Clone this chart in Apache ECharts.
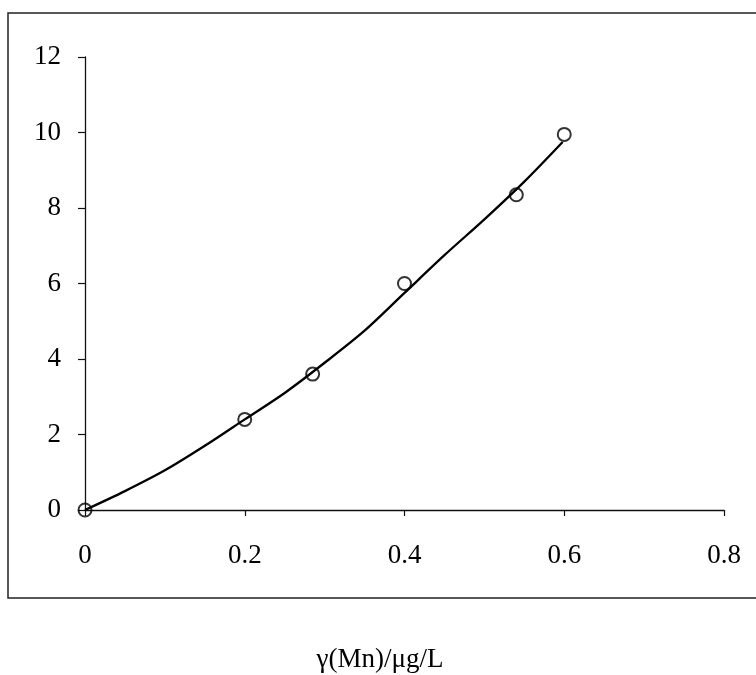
<!DOCTYPE html>
<html>
<head>
<meta charset="utf-8">
<script src="https://cdn.jsdelivr.net/npm/echarts@6/dist/echarts.min.js"></script>
<style>html,body{margin:0;padding:0;background:#fff;}#c{width:756px;height:675px;}</style>
</head>
<body>
<div id="c"></div>
<script>
var xTicks = [0, 0.2, 0.4, 0.6, 0.8];
var yTicks = [0, 2, 4, 6, 8, 10, 12];
var pointX = [0, 0.2, 0.285, 0.4, 0.54, 0.6];
var pointY = [0, 2.4, 3.6, 6.0, 8.35, 9.95];
var curveX = [0, 0.05, 0.1, 0.15, 0.2, 0.25, 0.3, 0.35, 0.4, 0.45, 0.5, 0.55, 0.598];
var curveY = [0, 0.5, 1.05, 1.7, 2.4, 3.1, 3.9, 4.75, 5.75, 6.75, 7.7, 8.7, 9.75];
var xName = 'γ(Mn)/μg/L';

var font = '"Liberation Serif", "DejaVu Serif", serif';
var chart = echarts.init(document.getElementById('c'));
chart.setOption({
  animation: false,
  backgroundColor: '#fff',
  grid: { left: 85, right: 32, top: 57, bottom: 165 },
  xAxis: {
    type: 'value', min: 0, max: 0.8, interval: 0.2,
    axisLine: { show: true, onZero: false, lineStyle: { color: '#111', width: 1.3 } },
    axisTick: { show: true, inside: false, length: 6, lineStyle: { color: '#111', width: 1.2 } },
    axisLabel: { margin: 32, color: '#000', fontSize: 27, fontFamily: font,
      formatter: function (v) { return String(Math.round(v * 10) / 10); } },
    splitLine: { show: false }
  },
  yAxis: {
    type: 'value', min: 0, max: 12, interval: 2,
    axisLine: { show: true, lineStyle: { color: '#111', width: 1.3 } },
    axisTick: { show: true, inside: false, length: 7, lineStyle: { color: '#111', width: 1.2 } },
    axisLabel: { margin: 24, color: '#000', fontSize: 27, fontFamily: font },
    splitLine: { show: false }
  },
  graphic: [
    { type: 'rect', shape: { x: 8, y: 13, width: 760, height: 585 },
      style: { fill: 'none', stroke: '#222', lineWidth: 1.5 }, z: -1 },
    { type: 'text', x: 380, y: 660,
      style: { text: xName, font: '27px ' + font, fill: '#000', textAlign: 'center', textVerticalAlign: 'middle' } }
  ],
  series: [
    {
      type: 'line', smooth: 0.3, showSymbol: false, symbol: 'none',
      data: curveX.map(function (x, i) { return [x, curveY[i]]; }),
      lineStyle: { color: '#000', width: 2.3 }, z: 2
    },
    {
      type: 'scatter', symbol: 'circle', symbolSize: 13,
      data: pointX.map(function (x, i) { return [x, pointY[i]]; }),
      itemStyle: { color: 'rgba(255,255,255,0)', borderColor: '#000', borderWidth: 2 }, z: 3
    }
  ]
});
</script>
</body>
</html>
